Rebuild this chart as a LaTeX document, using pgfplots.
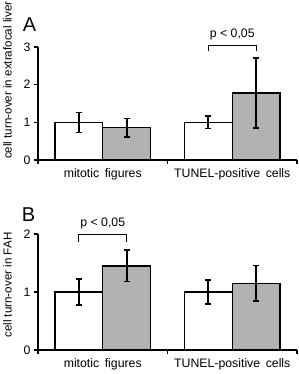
\documentclass[border=0pt]{standalone}
\usepackage{fontspec}
\setmainfont{Liberation Sans}
\usepackage{pgfplots}
\pgfplotsset{compat=1.18}
\definecolor{barg}{RGB}{178,178,178}
\pgfplotsset{
  panel/.style={
    scale only axis, width=259pt, xmin=0, xmax=2, ymin=0,
    axis x line=bottom, axis y line=left,
    axis line style={-, line width=1.4pt},
    xtick={0,1,2}, xticklabels={},
    extra x ticks={0.5,1.5},
    extra x tick labels={mitotic\hspace{0.45em}figures, TUNEL-positive\hspace{0.45em}cells},
    extra x tick style={major tick length=0pt, tick style={draw=none},
      tick label style={yshift=-5pt}},
    tick style={black, line width=1.2pt}, major tick length=4pt,
    tick align=outside,
    ytick distance=1,
    font=\fontsize{12.3}{14}\selectfont,
    /pgf/number format/assume math mode=true,
    ybar, bar width=0.37, bar shift=0pt,
    clip=false,
    ylabel style={inner sep=0pt, anchor=west, font=\fontsize{11.6}{13}\selectfont},
    every axis plot/.append style={draw=black, line width=1.4pt},
    error bars/y dir=both, error bars/y explicit,
    error bars/error bar style={line width=1.6pt, black},
    error bars/error mark options={rotate=90, mark size=3.2pt, line width=1.6pt, black},
  }
}
\begin{document}
\begin{tikzpicture}
\path[use as bounding box] (0,0) rectangle (299pt,374pt);
% Panel A
\begin{axis}[panel, at={(38pt,214pt)}, anchor=south west, height=113pt, ymax=3,
  ylabel={cell turn-over in extrafocal liver},
  ylabel style={at={(axis description cs:-0.118,0.008)}}]
\addplot[fill=white] coordinates {(0.315,1.0) +- (0,0.265) (1.315,1.0) +- (0,0.165)};
\addplot[fill=barg] coordinates {(0.685,0.855) +- (0,0.25) (1.685,1.78) +- (0,0.93)};
\draw[line width=0.9pt] (axis cs:1.315,2.9) |- (axis cs:1.685,3.03) -- (axis cs:1.685,2.9);
\node[font=\fontsize{12.3}{14}\selectfont] at (axis cs:1.5,3.32) {p < 0,05};
\end{axis}
\node[font=\fontsize{20}{22}\selectfont] at (29.5pt,349.5pt) {A};
% Panel B
\begin{axis}[panel, at={(38pt,24pt)}, anchor=south west, height=116pt, ymax=2,
  ylabel={cell turn-over in FAH},
  ylabel style={at={(axis description cs:-0.118,0.105)}}]
\addplot[fill=white] coordinates {(0.315,1.0) +- (0,0.22) (1.315,1.0) +- (0,0.205)};
\addplot[fill=barg] coordinates {(0.685,1.45) +- (0,0.27) (1.685,1.15) +- (0,0.31)};
\draw[line width=0.9pt] (axis cs:0.315,1.87) |- (axis cs:0.685,2.0) -- (axis cs:0.685,1.87);
\node[font=\fontsize{12.3}{14}\selectfont] at (axis cs:0.5,2.18) {p < 0,05};
\end{axis}
\node[font=\fontsize{20}{22}\selectfont] at (28.5pt,159pt) {B};
\end{tikzpicture}
\end{document}
